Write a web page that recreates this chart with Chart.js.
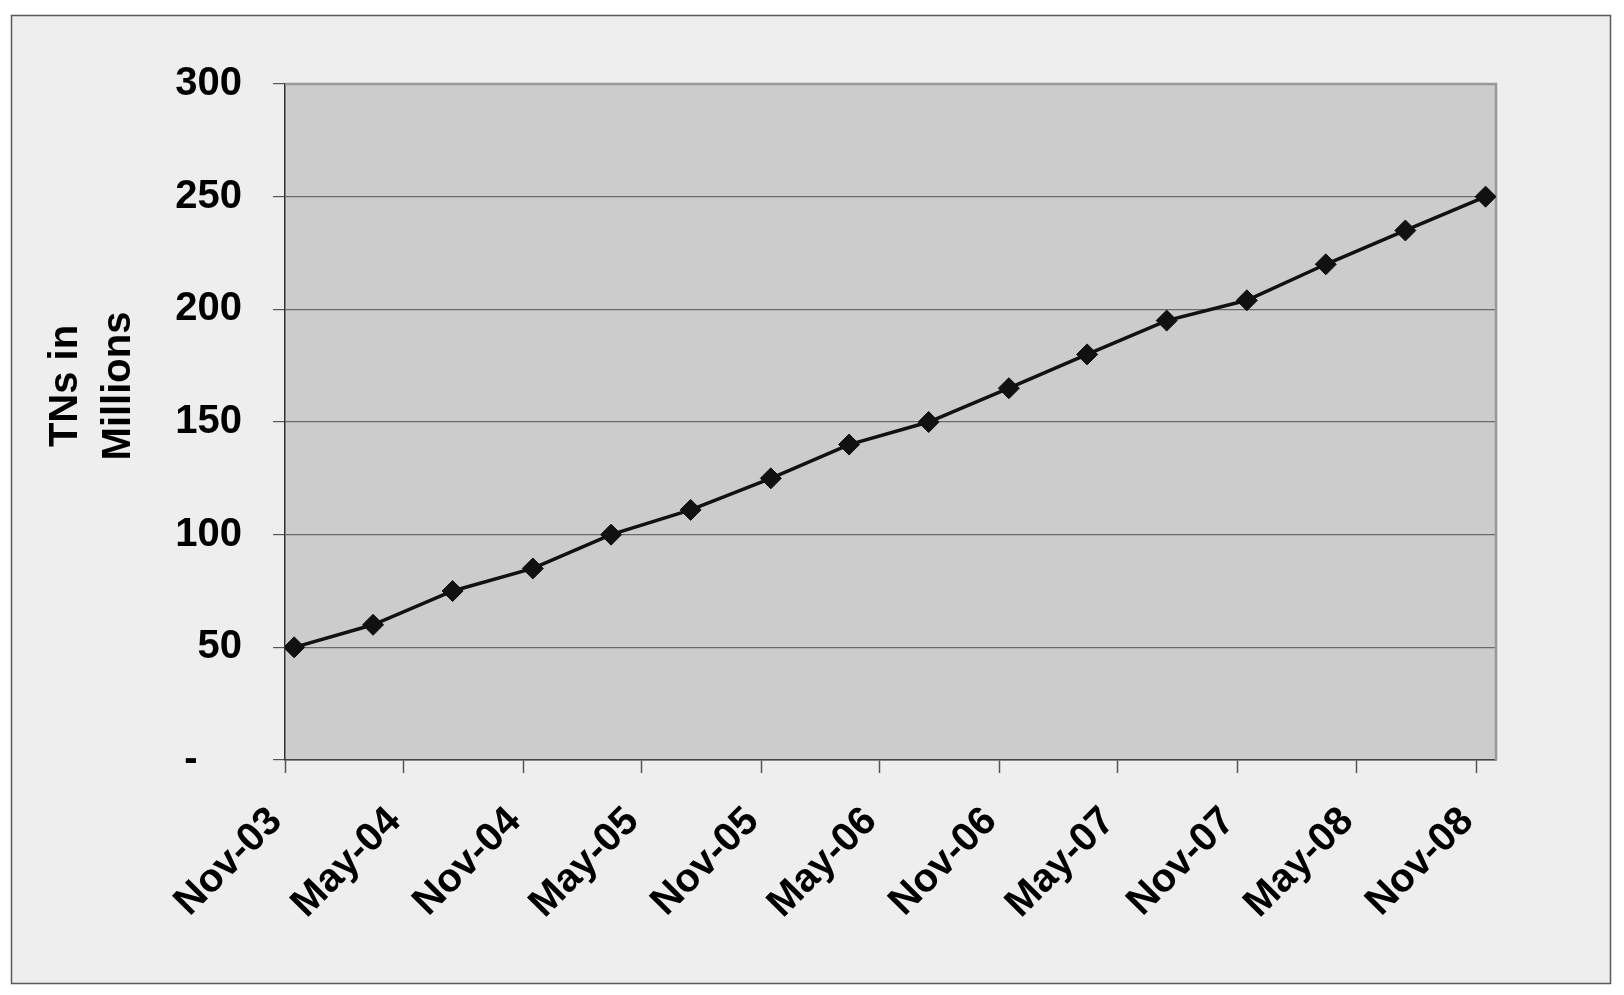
<!DOCTYPE html>
<html>
<head>
<meta charset="utf-8">
<script src="https://cdn.jsdelivr.net/npm/chart.js@4/dist/chart.umd.min.js"></script>
<style>
  html, body { margin: 0; padding: 0; background: #ffffff; }
  #wrap { position: absolute; left: 0; top: 0; width: 1624px; height: 995px; }
</style>
</head>
<body>
<div id="wrap"><canvas id="c" width="1624" height="995"></canvas></div>
<script>
// ---- data ----
const pointDates = ['2003-11-15','2004-03-15','2004-07-15','2004-11-15','2005-03-15','2005-07-15',
                    '2005-11-15','2006-03-15','2006-07-15','2006-11-15','2007-03-15','2007-07-15',
                    '2007-11-15','2008-03-15','2008-07-15','2008-11-15'];
const tnsMillions = [50, 60, 75, 85, 100, 111, 125, 140, 150, 165, 180, 195, 204, 220, 235, 250];
const tickDates = ['2003-11-01','2004-05-01','2004-11-01','2005-05-01','2005-11-01','2006-05-01',
                   '2006-11-01','2007-05-01','2007-11-01','2008-05-01','2008-11-01'];
const tickLabels = ['Nov-03','May-04','Nov-04','May-05','Nov-05','May-06',
                    'Nov-06','May-07','Nov-07','May-08','Nov-08'];
const axisStart = '2003-11-01';
const axisEnd = '2008-12-01';
const yTitleLines = ['TNs in', 'Millions'];

function dayNum(s) {
  const p = s.split('-').map(Number);
  return Date.UTC(p[0], p[1] - 1, p[2]) / 86400000;
}

const FONT = "'Liberation Sans', Arial, Helvetica, sans-serif";

const framePlugin = {
  id: 'frame',
  beforeDraw(chart) {
    const ctx = chart.ctx;
    const a = chart.chartArea;
    ctx.save();
    ctx.fillStyle = '#ffffff';
    ctx.fillRect(0, 0, chart.width, chart.height);
    ctx.fillStyle = '#eeeeee';
    ctx.fillRect(11, 15, 1600, 969);
    ctx.strokeStyle = '#5a5a5a';
    ctx.lineWidth = 1.5;
    ctx.strokeRect(11.5, 15.5, 1599, 968);
    ctx.fillStyle = '#cccccc';
    ctx.fillRect(a.left, a.top, a.right - a.left, a.bottom - a.top);
    ctx.restore();
  },
  beforeDatasetsDraw(chart) {
    const ctx = chart.ctx;
    const a = chart.chartArea;
    ctx.save();
    ctx.strokeStyle = '#999999';
    ctx.lineWidth = 2.5;
    ctx.beginPath();
    ctx.moveTo(a.left, a.top);
    ctx.lineTo(a.right, a.top);
    ctx.lineTo(a.right, a.bottom);
    ctx.stroke();
    ctx.restore();
  },
  afterDraw(chart) {
    const ctx = chart.ctx;
    ctx.save();
    ctx.fillStyle = '#000000';
    ctx.font = 'bold 40px ' + FONT;
    ctx.textAlign = 'center';
    ctx.textBaseline = 'alphabetic';
    ctx.translate(0, 386);
    ctx.rotate(-Math.PI / 2);
    ctx.fillText(yTitleLines[0], 0, 76.5);
    ctx.fillText(yTitleLines[1], 0, 130);
    ctx.restore();
  }
};

new Chart(document.getElementById('c'), {
  type: 'line',
  data: {
    datasets: [{
      label: 'TNs in Millions',
      data: pointDates.map((d, i) => ({ x: dayNum(d), y: tnsMillions[i] })),
      borderColor: '#111111',
      borderWidth: 3.5,
      pointStyle: 'rectRot',
      pointRadius: 10.5,
      pointBackgroundColor: '#111111',
      pointBorderColor: '#111111',
      pointBorderWidth: 1,
      tension: 0,
      fill: false
    }]
  },
  options: {
    responsive: false,
    animation: false,
    layout: { padding: { left: 0, right: 128, top: 84, bottom: 0 } },
    plugins: { legend: { display: false }, tooltip: { enabled: false }, title: { display: false } },
    scales: {
      x: {
        type: 'linear',
        min: dayNum(axisStart),
        max: dayNum(axisEnd),
        afterBuildTicks(scale) {
          scale.ticks = tickDates.map(d => ({ value: dayNum(d) }));
        },
        afterFit(scale) { scale.height = 235; },
        grid: { drawOnChartArea: false, drawTicks: true, tickLength: 13, tickColor: '#555555', tickWidth: 1.5 },
        border: { color: '#444444', width: 1.5 },
        ticks: {
          autoSkip: false,
          maxRotation: 45,
          minRotation: 45,
          padding: 25,
          labelOffset: -9,
          color: '#000000',
          font: { family: FONT, size: 40, weight: 'bold' },
          callback: (v, i) => tickLabels[i]
        }
      },
      y: {
        min: 0,
        max: 300,
        afterFit(scale) { scale.width = 285; },
        grid: { color: '#6a6a6a', lineWidth: 1.2, drawTicks: true, tickLength: 12, tickColor: '#555555' },
        border: { color: '#333333', width: 1.5 },
        ticks: {
          stepSize: 50,
          padding: 31,
          color: '#000000',
          font: { family: FONT, size: 40, weight: 'bold' },
          callback: v => (v === 0 ? '-\u2007\u2007' : String(v))
        }
      }
    }
  },
  plugins: [framePlugin]
});
</script>
</body>
</html>
